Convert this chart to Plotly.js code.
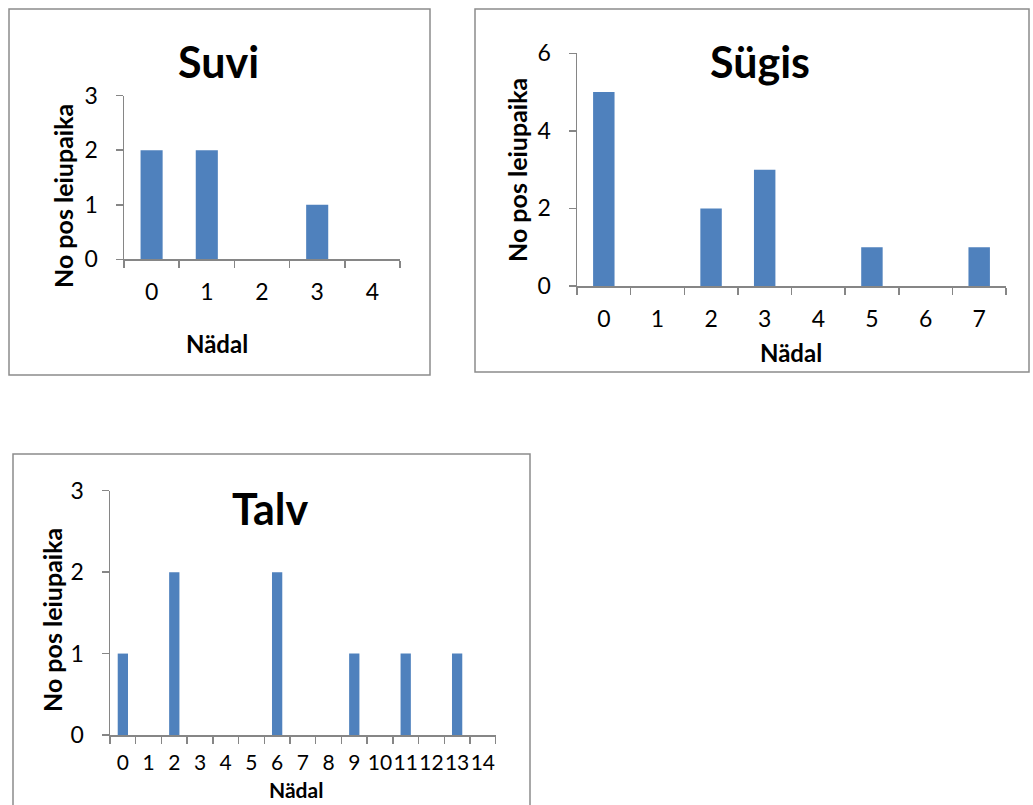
<!DOCTYPE html>
<html>
<head>
<meta charset="utf-8">
<script src="https://cdn.plot.ly/plotly-3.0.1.min.js"></script>
<style>html,body{margin:0;padding:0;background:#fff;}#chart{width:1033px;height:805px;}</style>
</head>
<body>
<div id="chart"></div>
<script>
// ---- data ----
const suviWeeks = ["0","1","2","3","4"];
const suviCounts = [2, 2, 0, 1, 0];
const sugisWeeks = ["0","1","2","3","4","5","6","7"];
const sugisCounts = [5, 0, 2, 3, 0, 1, 0, 1];
const talvWeeks = ["0","1","2","3","4","5","6","7","8","9","10","11","12","13","14"];
const talvCounts = [1, 0, 2, 0, 0, 0, 2, 0, 0, 1, 0, 1, 0, 1, 0];
const titles = ["Suvi", "Sügis", "Talv"];
const xTitle = "Nädal";
const yTitle = "No pos leiupaika";

// ---- layout helpers (pixel -> paper) ----
const W = 1033, H = 805;
const px = v => v / W;
const py = v => 1 - v / H;

const barColor = "#4F81BD";
const axisColor = "#868686";
const boxColor = "#8c8c8c";
const FONT = "Lato, 'Open Sans', sans-serif";

function xaxisCfg(domain, anchor, fsize, standoff) {
  return {
    type: "category", domain: domain, anchor: anchor,
    tickmode: "linear", tick0: 0, dtick: 1,
    showline: true, linecolor: axisColor, linewidth: 1.5,
    ticks: "outside", tickson: "boundaries", ticklen: 7, tickcolor: axisColor, tickwidth: 1.5,
    showgrid: false, zeroline: false, tickangle: 0,
    ticklabelstandoff: standoff,
    tickfont: {family: FONT, size: fsize, color: "#000"},
    fixedrange: true
  };
}
function yaxisCfg(domain, anchor, range, dtick) {
  return {
    domain: domain, anchor: anchor, range: range, dtick: dtick, tick0: 0,
    showline: true, linecolor: axisColor, linewidth: 1.5,
    ticks: "outside", ticklen: 7, tickcolor: axisColor, tickwidth: 1.5,
    showgrid: false, zeroline: false,
    ticklabelstandoff: 13,
    tickfont: {family: FONT, size: 23, color: "#000"},
    fixedrange: true
  };
}

const traces = [
  {type: "bar", x: suviWeeks, y: suviCounts, xaxis: "x", yaxis: "y",
   marker: {color: barColor}, hoverinfo: "skip"},
  {type: "bar", x: sugisWeeks, y: sugisCounts, xaxis: "x2", yaxis: "y2",
   marker: {color: barColor}, hoverinfo: "skip"},
  {type: "bar", x: talvWeeks, y: talvCounts, xaxis: "x3", yaxis: "y3",
   marker: {color: barColor}, hoverinfo: "skip"}
];

function box(x0, y0, x1, y1) {
  return {type: "rect", xref: "paper", yref: "paper",
          x0: px(x0), x1: px(x1), y0: py(y1), y1: py(y0),
          line: {color: boxColor, width: 1.5}, fillcolor: "rgba(0,0,0,0)", layer: "below"};
}
function ann(text, x, y, size, angle, yanchor) {
  return {text: text, xref: "paper", yref: "paper", x: px(x), y: py(y),
          xanchor: "center", yanchor: yanchor || "middle", showarrow: false, textangle: angle || 0,
          font: {family: FONT, size: size, color: "#000", weight: "bold"}};
}

const layout = {
  width: W, height: H,
  margin: {l: 0, r: 0, t: 0, b: 0, pad: 0},
  paper_bgcolor: "#fff", plot_bgcolor: "rgba(0,0,0,0)",
  showlegend: false, bargap: 0.6,
  xaxis: xaxisCfg([px(124), px(400)], "y", 23, 12),
  yaxis: yaxisCfg([py(259.3), py(95.7)], "x", [0, 3], 1),
  xaxis2: xaxisCfg([px(577), px(1006)], "y2", 23, 12),
  yaxis2: yaxisCfg([py(286), py(53.3)], "x2", [0, 6], 2),
  xaxis3: xaxisCfg([px(110), px(495.7)], "y3", 21, 8),
  yaxis3: yaxisCfg([py(735), py(490.7)], "x3", [0, 3], 1),
  shapes: [
    box(9, 9, 430, 375),
    box(475, 9, 1029, 372),
    box(13, 454, 530, 812)
  ],
  annotations: [
    ann("<b>" + titles[0] + "</b>", 218, 62, 43),
    ann("<b>" + titles[1] + "</b>", 760, 62, 43),
    ann("<b>" + titles[2] + "</b>", 270, 508, 43),
    ann("<b>" + xTitle + "</b>", 217, 343, 24),
    ann("<b>" + xTitle + "</b>", 791, 352, 24),
    ann("<b>" + xTitle + "</b>", 296, 804, 21, 0, "bottom"),
    ann("<b>" + yTitle + "</b>", 63, 196, 25, -90),
    ann("<b>" + yTitle + "</b>", 517, 170, 25, -90),
    ann("<b>" + yTitle + "</b>", 52, 620, 25, -90)
  ]
};

Plotly.newPlot("chart", traces, layout, {displayModeBar: false, staticPlot: true});
</script>
</body>
</html>
